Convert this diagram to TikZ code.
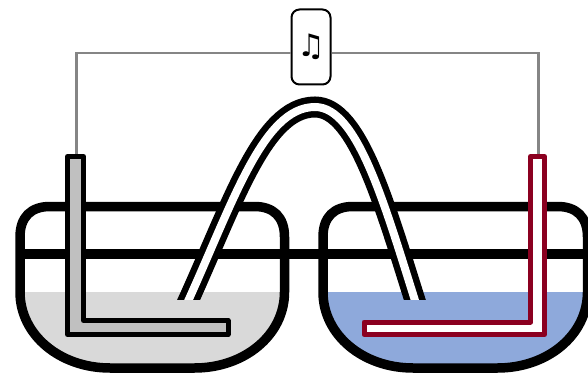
\documentclass[tikz,border=0pt]{standalone}
\usepackage{fontspec}
\newfontfamily\symfont{DejaVu Sans}
\definecolor{graywater}{HTML}{D9D9D9}
\definecolor{bluewater}{HTML}{8EA9DB}
\definecolor{redrod}{HTML}{8B0020}
\definecolor{grayrod}{HTML}{C0C0C0}
\definecolor{wirecol}{HTML}{858585}
\newcommand{\bowlpath}[1]{%
  [shift={(#1,0)}] (0,292) -- (0,237) .. controls (0,217) and (11,206.5) .. (30,206.5)
  -- (234.5,206.5) .. controls (253.5,206.5) and (264.5,217) .. (264.5,237) -- (264.5,292)
  .. controls (264.5,335) and (224.5,368) .. (174.5,368) -- (90,368)
  .. controls (40,368) and (0,335) .. (0,292) -- cycle}
\newcommand{\bridgepath}{(184,310) .. controls (232,206) and (262,107) .. (315,107) .. controls (358,107) and (385,206) .. (418,310)}
\tikzset{
  x=1pt,y=-1pt,
  bowl/.style={draw=black,line width=9.5pt,line join=round},
  rod/.style={line width=5pt,line join=round},
  wire/.style={draw=wirecol,line width=2.6pt},
  tube/.style={line cap=butt},
  box/.style={draw=black,line width=2pt,fill=white,rounded corners=8pt,minimum width=39pt,minimum height=75pt,inner sep=0pt}
}
\begin{document}
\begin{tikzpicture}
\useasboundingbox (0,0) rectangle (588,374);
\clip (0,0) rectangle (588,374);
% water
\begin{scope}
\clip (0,292) rectangle (588,374);
\fill[graywater] \bowlpath{20};
\fill[bluewater] \bowlpath{323};
\end{scope}
% bowls and the level line
\draw[bowl] \bowlpath{20};
\draw[bowl] \bowlpath{323};
\coordinate (levelL) at (20,254);
\coordinate (levelR) at (588,254);
\draw[line width=9.5pt] (levelL) -- (levelR);
% wires and sounder
\node[box] (music) at (311,47) {\symfont\fontsize{31}{31}\selectfont ♫};
\coordinate (rodL) at (76.5,156);
\coordinate (rodR) at (538.5,156);
\draw[wire] (rodL) |- ([yshift=-6pt]music.west);
\draw[wire] (rodR) |- ([yshift=-6pt]music.east);
% electrodes
\draw[rod,draw=black,fill=grayrod] (67.5,156.5) -- (83.5,156.5) -- (83.5,320.5) -- (228,320.5) -- (228,334.5) -- (67.5,334.5) -- cycle;
\draw[rod,draw=redrod,fill=white] (530.5,156.5) -- (544.5,156.5) -- (544.5,334.5) -- (364,334.5) -- (364,322) -- (530.5,322) -- cycle;
% salt bridge
\begin{scope}
\clip (0,0) rectangle (588,299);
\draw[tube,black,line width=21pt] \bridgepath;
\draw[tube,white,line width=8pt] \bridgepath;
\end{scope}
\end{tikzpicture}
\end{document}
